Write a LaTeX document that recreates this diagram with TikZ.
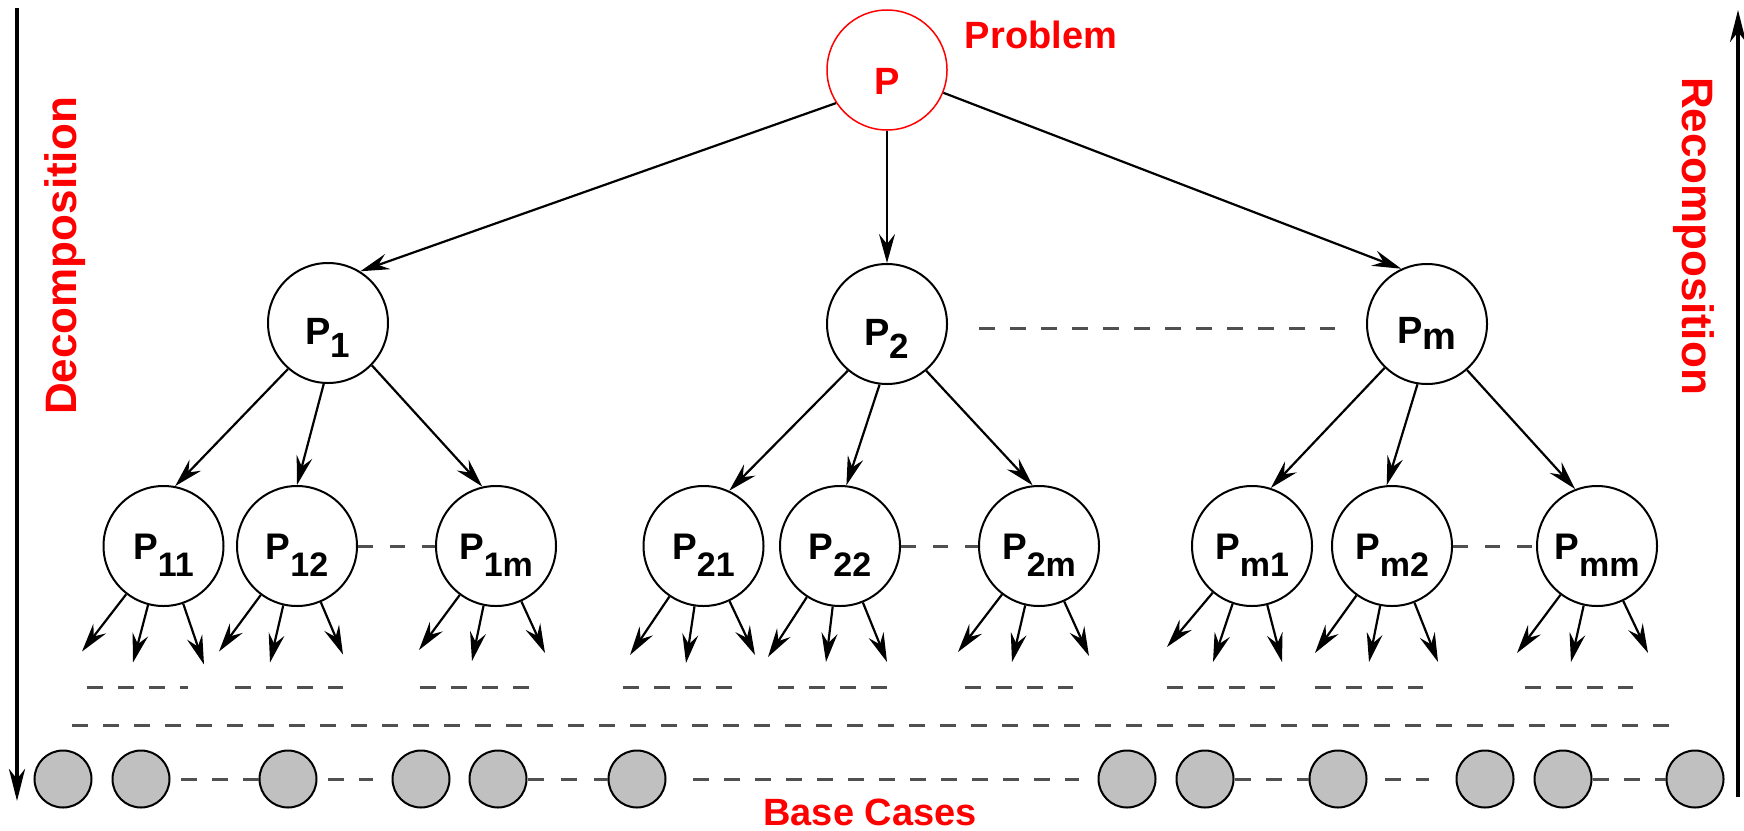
\documentclass[tikz,border=0pt]{standalone}
\usepackage{fontspec}
\setmainfont{Liberation Sans}
\usetikzlibrary{arrows.meta}
\definecolor{pred}{HTML}{FF0000}
\definecolor{dashgray}{HTML}{505050}
\definecolor{basegray}{HTML}{C0C0C0}

% P with a lowered index: shift, index size, index text
\newcommand\Psub[3]{P\raisebox{-#1pt}{\fontsize{#2}{#2}\selectfont #3}}
% three arrows leaving a subproblem downwards
\newcommand\subarrows[4]{%
  \draw[edge] (#1) -- ++(#2);
  \draw[edge] (#1) -- ++(#3);
  \draw[edge] (#1) -- ++(#4);}

\begin{document}
\begin{tikzpicture}[x=1pt,y=-1pt,
  every node/.style={font=\fontsize{38}{40}\selectfont\bfseries},
  sub/.style={circle,draw,line width=2pt,minimum size=120pt,inner sep=0pt},
  root/.style={sub,draw=pred,line width=1.5pt},
  lab/.style={inner sep=0pt,font=\fontsize{38}{38}\selectfont\bfseries},
  lab2/.style={inner sep=0pt,font=\fontsize{37}{37}\selectfont\bfseries,yshift=-9.5pt},
  base/.style={circle,draw,fill=basegray,line width=2pt,minimum size=57pt,inner sep=0pt},
  edge/.style={line width=2.2pt,-{Stealth[length=29pt,width=16pt,inset=10pt]}},
  dashline/.style={draw=dashgray,line width=3pt,dash pattern=on 16pt off 15pt},
  sibdash/.style={draw=dashgray,line width=3pt,dash pattern=on 15pt off 17pt},
  tag/.style={text=pred},
  side/.style={line width=4pt,-{Stealth[length=32pt,width=16pt,inset=10pt]}}
]
\useasboundingbox (0,0) rectangle (1744,830);

% root problem
\node[root,label={[lab,text=pred,yshift=-11.5pt]center:P}] (P) at (887,70) {};
\node[tag,anchor=base] (problem) at (1041,48) {Problem};

% first level
\node[sub,label={[lab,yshift=-14.5pt]center:\Psub{13}{35}{1}}] (P1) at (328,323) {};
\node[sub,label={[lab,yshift=-14.5pt]center:\Psub{13}{35}{2}}] (P2) at (887,324) {};
\node[sub,label={[lab,yshift=-9.5pt]center:\Psub{6}{38}{m}}] (Pm) at (1427,324) {};

\draw[edge] (P.213) -- (P1.58);
\draw[edge] (P.south) -- (P2.north);
\draw[edge] (P.338) -- (Pm.115);
\draw[dashline] (979,328) -- (1335,328);

% second level
\node[sub,label={[lab2]center:\Psub{17}{34}{11}}] (P11) at (163.5,546) {};
\node[sub,label={[lab2]center:\Psub{17}{34}{12}}] (P12) at (297,546) {};
\node[sub,label={[lab2]center:\Psub{17}{34}{1m}}] (P1m) at (496,546) {};
\node[sub,label={[lab2]center:\Psub{17}{34}{21}}] (P21) at (703.5,546) {};
\node[sub,label={[lab2]center:\Psub{17}{34}{22}}] (P22) at (840,546) {};
\node[sub,label={[lab2]center:\Psub{17}{34}{2m}}] (P2m) at (1039,546) {};
\node[sub,label={[lab2]center:\Psub{17}{34}{m1}}] (Pm1) at (1252,546) {};
\node[sub,label={[lab2]center:\Psub{17}{34}{m2}}] (Pm2) at (1392,546) {};
\node[sub,label={[lab2]center:\Psub{17}{34}{mm}}] (Pmm) at (1597,546) {};

\draw[edge] (P1.229) -- (P11.79);
\draw[edge] (P1.266) -- (P12.90);
\draw[edge] (P1.316) -- (P1m.103);
\draw[edge] (P2.230) -- (P21.65);
\draw[edge] (P2.263) -- (P22.84);
\draw[edge] (P2.310) -- (P2m.96);
\draw[edge] (Pm.226) -- (Pm1.72);
\draw[edge] (Pm.261) -- (Pm2.95);
\draw[edge] (Pm.311) -- (Pmm.111);

\draw[sibdash] (P12.east) -- (P1m.west);
\draw[sibdash] (P22.east) -- (P2m.west);
\draw[sibdash] (Pm2.east) -- (Pmm.west);

% further subdivision
\subarrows{P11}{-81.5,105.5}{-30.5,116.5}{40.5,118.5}
\subarrows{P12}{-78,105.5}{-27,116.5}{46,108.5}
\subarrows{P1m}{-77,104}{-24,115}{49,107}
\subarrows{P21}{-73.5,109}{-17.5,117}{51.5,109}
\subarrows{P22}{-72,111}{-14,116}{47,116}
\subarrows{P2m}{-81,106}{-27,116}{50,110}
\subarrows{Pm1}{-85,101}{-39,116}{30,116}
\subarrows{Pm2}{-77,107}{-23,116}{46,116}
\subarrows{Pmm}{-80,107}{-26,116}{51,107}

\foreach \a/\b in {87/188,235/343,420/530,623/732,778/887,965/1073,1167/1275,1315/1423,1525/1633}
  \draw[dashline] (\a,687) -- (\b,687);
\draw[dashline] (72,725) -- (1672,725);

% base cases
\foreach \i/\x in {1/63,2/141,3/288,4/421,5/498,6/637,7/1127,8/1205,9/1338,10/1485,11/1563,12/1695}
  \node[base] (b\i) at (\x,779) {};
\draw[dashline] ([xshift=10.5pt]b2.east) -- (b3.west);
\draw[dashline] ([xshift=10.5pt]b3.east) -- ([xshift=-18.5pt]b4.west);
\draw[draw=dashgray,line width=3pt,dash pattern=on 16pt off 17pt] (b5.east) -- (b6.west);
\draw[dashline] ([xshift=26.5pt]b6.east) -- ([xshift=-18.5pt]b7.west);
\draw[dashline] (b8.east) -- (b9.west);
\draw[dashline] ([xshift=17.5pt]b9.east) -- ([xshift=-26.5pt]b10.west);
\draw[dashline] (b11.east) -- (b12.west);
\node[tag,anchor=base] (basecases) at (870,825) {Base Cases};

% direction arrows at the sides
\coordinate (dtop) at (17,8);
\coordinate (dbot) at (17,801);
\coordinate (rbot) at (1738,797);
\coordinate (rtop) at (1738,10);
\draw[side] (dtop) -- (dbot);
\draw[side] (rbot) -- (rtop);
\node[tag,rotate=90,anchor=base,font=\fontsize{44}{44}\selectfont\bfseries] (decomp) at (76,256) {Decomposition};
\node[tag,rotate=-90,anchor=base,font=\fontsize{44}{44}\selectfont\bfseries] (recomp) at (1682,236) {Recomposition};
\end{tikzpicture}
\end{document}
